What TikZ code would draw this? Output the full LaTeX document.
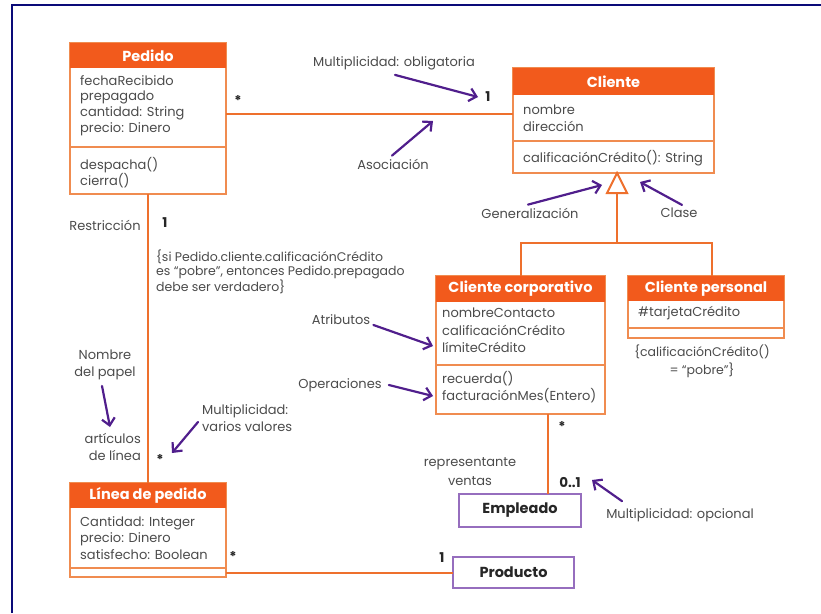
\documentclass[tikz,border=0pt]{standalone}
\usepackage{fontspec}
\setmainfont{Poppins}
\usetikzlibrary{arrows.meta,calc}
\definecolor{hdr}{RGB}{242,90,28}
\definecolor{boxline}{RGB}{240,140,80}
\definecolor{connc}{RGB}{238,112,45}
\definecolor{ann}{RGB}{80,30,140}
\definecolor{txt}{RGB}{75,75,75}
\definecolor{framec}{RGB}{10,10,120}
\definecolor{empc}{RGB}{150,110,190}
\begin{document}
\begin{tikzpicture}[x=1pt,y=-1pt,
 classbox/.style={draw=boxline, line width=1.3pt, anchor=north west, inner sep=0, outer sep=0},
 plainbox/.style={draw=empc, line width=1.3pt, anchor=north west, inner sep=0, outer sep=0},
 hdrtext/.style={inner sep=0, text=white, font=\bfseries\fontsize{14.5}{16}\selectfont},
 boxtext/.style={inner sep=0, text=black!85, font=\bfseries\fontsize{14.5}{16}\selectfont},
 attr/.style={anchor=west, inner sep=0, text=txt, font=\fontsize{13}{16}\selectfont},
 lbl/.style={inner sep=0, text=txt, font=\fontsize{13}{16.5}\selectfont},
 cons/.style={inner sep=0, text=txt, font=\fontsize{12.5}{13.5}\selectfont},
 mult/.style={inner sep=0, text=black!85, font=\bfseries\fontsize{13.5}{16}\selectfont},
 conn/.style={draw=connc, line width=2pt},
 divider/.style={draw=boxline, line width=1.3pt},
 annarrow/.style={draw=ann, line width=2.2pt, line cap=round, -{Straight Barb[length=7pt,width=13pt]}},
]
\useasboundingbox (0,0) rectangle (821,613);
\draw[framec, line width=2.5pt] (12,613) -- (12,5) -- (821,5);

% ---------- Pedido ----------
\node[classbox, minimum width=156pt, minimum height=151pt] (pedido) at (70,43) {};
\fill[hdr] (pedido.north west) rectangle ++(156,25);
\draw[divider] (pedido.north west) ++(0,104) -- ++(156,0);
\node[hdrtext] (pedidoT) at (148,56) {Pedido};
\node[attr] (p1) at (80,81) {fechaRecibido};
\node[attr] (p2) at (80,97) {prepagado};
\node[attr] (p3) at (80,113) {cantidad: String};
\node[attr] (p4) at (80,129) {precio: Dinero};
\node[attr] (p5) at (80,165) {despacha()};
\node[attr] (p6) at (80,181) {cierra()};

% ---------- Cliente ----------
\node[classbox, minimum width=201pt, minimum height=105pt] (cliente) at (513,68) {};
\fill[hdr] (cliente.north west) rectangle ++(201,27);
\draw[divider] (cliente.north west) ++(0,73) -- ++(201,0);
\node[hdrtext] (clienteT) at (613.5,81.5) {Cliente};
\node[attr] (c1) at (523,110) {nombre};
\node[attr] (c2) at (523,126) {dirección};
\node[attr] (c3) at (523,158) {calificaciónCrédito(): String};

% ---------- Cliente corporativo ----------
\node[classbox, minimum width=169pt, minimum height=138pt] (corp) at (436,276) {};
\fill[hdr] (corp.north west) rectangle ++(169,26);
\draw[divider] (corp.north west) ++(0,89) -- ++(169,0);
\node[hdrtext] (corpT) at (520.5,289) {Cliente corporativo};
\node[attr] (k1) at (442,313) {nombreContacto};
\node[attr] (k2) at (442,330) {calificaciónCrédito};
\node[attr] (k3) at (442,347) {límiteCrédito};
\node[attr] (k4) at (442,379) {recuerda()};
\node[attr] (k5) at (442,396) {facturaciónMes(Entero)};

% ---------- Cliente personal ----------
\node[classbox, minimum width=156pt, minimum height=62pt] (pers) at (628,276) {};
\fill[hdr] (pers.north west) rectangle ++(156,25);
\draw[divider] (pers.north west) ++(0,52) -- ++(156,0);
\node[hdrtext] (persT) at (706,288.5) {Cliente personal};
\node[attr] (q1) at (638,313) {\#tarjetaCrédito};
\node[cons, align=center, font=\fontsize{12.5}{18}\selectfont] (persC) at (702,361) {\{calificaciónCrédito()\\= “pobre”\}};

% ---------- Linea de pedido ----------
\node[classbox, minimum width=156pt, minimum height=94pt] (linea) at (70,483) {};
\fill[hdr] (linea.north west) rectangle ++(156,25);
\draw[divider] (linea.north west) ++(0,85) -- ++(156,0);
\node[hdrtext] (lineaT) at (148,495.5) {Línea de pedido};
\node[attr] (l1) at (80,523) {Cantidad: Integer};
\node[attr] (l2) at (80,539) {precio: Dinero};
\node[attr] (l3) at (80,555) {satisfecho: Boolean};

% ---------- Empleado, Producto ----------
\node[plainbox, minimum width=122pt, minimum height=33pt] (emp) at (459,494) {};
\node[boxtext] (empT) at (520,510.5) {Empleado};
\node[plainbox, minimum width=121pt, minimum height=31pt] (prod) at (453,557) {};
\node[boxtext] (prodT) at (513.5,572.5) {Producto};

% ---------- connectors ----------
\coordinate (ya) at (0,114);
\draw[conn] (pedido.east |- ya) -- (cliente.west |- ya);
\draw[conn] (pedido.south) -- (linea.north);
\draw[conn] (linea.east |- prod.west) -- (prod.west);
\coordinate (xe) at (548,0);
\draw[conn] (corp.south -| xe) -- (emp.north -| xe);
% generalization
\coordinate (gtip) at (617,173);
\coordinate (gbase) at (617,193);
\coordinate (gjoin) at (617,243);
\coordinate (xp) at (712,0);
\draw[conn] (gbase) -- (gjoin);
\draw[conn] (corp.north) |- (gjoin) -| (pers.north -| xp);
\draw[conn, fill=white, line join=miter] (gtip) -- (607,193) -- (627,193) -- cycle;

% ---------- multiplicities ----------
\node[mult] (m1) at (238,101) {*};
\node[mult] (m2) at (488,97) {1};
\node[mult] (m3) at (165,223) {1};
\node[mult] (m4) at (160,459) {*};
\node[mult] (m5) at (233,556) {*};
\node[mult] (m6) at (442,558) {1};
\node[mult] (m7) at (562,426) {*};
\node[mult] (m8) at (570,483) {0..1};

% ---------- labels ----------
\node[lbl] (mobl) at (394,63) {Multiplicidad: obligatoria};
\node[lbl] (asoc) at (393,164) {Asociación};
\node[lbl] (gen) at (530,213) {Generalización};
\node[lbl] (clase) at (679,213) {Clase};
\node[lbl] (restr) at (105,225) {Restricción};
\node[cons, align=left, anchor=west] (rest) at (156,272) {\{si Pedido.cliente.calificaciónCrédito\\es “pobre”, entonces Pedido.prepagado\\debe ser verdadero\}};
\node[lbl] (atr) at (341,320) {Atributos};
\node[lbl] (ope) at (340,385) {Operaciones};
\node[lbl, align=center] (papel) at (105,365) {Nombre\\del papel};
\node[lbl, align=right, anchor=east] (artic) at (141,447) {artículos\\de línea};
\node[lbl, align=left, anchor=west] (mvar) at (202,418) {Multiplicidad:\\varios valores};
\node[lbl, align=center, font=\fontsize{13}{19}\selectfont] (repv) at (470,472) {representante\\ventas};
\node[lbl] (mopc) at (680,515) {Multiplicidad: opcional};

% ---------- annotation arrows ----------
\coordinate (t1) at (478,97);
\coordinate (t2) at (433,121);
\coordinate (t3) at (602,185);
\coordinate (t4) at (640,182);
\coordinate (t5) at (433,346);
\coordinate (t6) at (433,396);
\coordinate (t7) at (110,427);
\coordinate (t8) at (172,453);
\coordinate (t9) at (592,480);
\draw[annarrow] ($(mobl.south)+(1,5)$) -- (t1);
\draw[annarrow] ($(asoc.north)+(-1,-3)$) -- (t2);
\draw[annarrow] ($(gen.north)+(-2,-3)$) -- (t3);
\draw[annarrow] ($(clase.north)+(3,-3)$) -- (t4);
\draw[annarrow] ($(atr.east)+(3,5)$) -- (t5);
\draw[annarrow] ($(ope.east)+(7,0)$) -- (t6);
\draw[annarrow] ($(papel.south)+(-3,6)$) -- (t7);
\draw[annarrow] ($(mvar.west)+(-4,4)$) -- (t8);
\draw[annarrow] ($(mopc.north west)+(16,-7)$) -- (t9);
\end{tikzpicture}
\end{document}
